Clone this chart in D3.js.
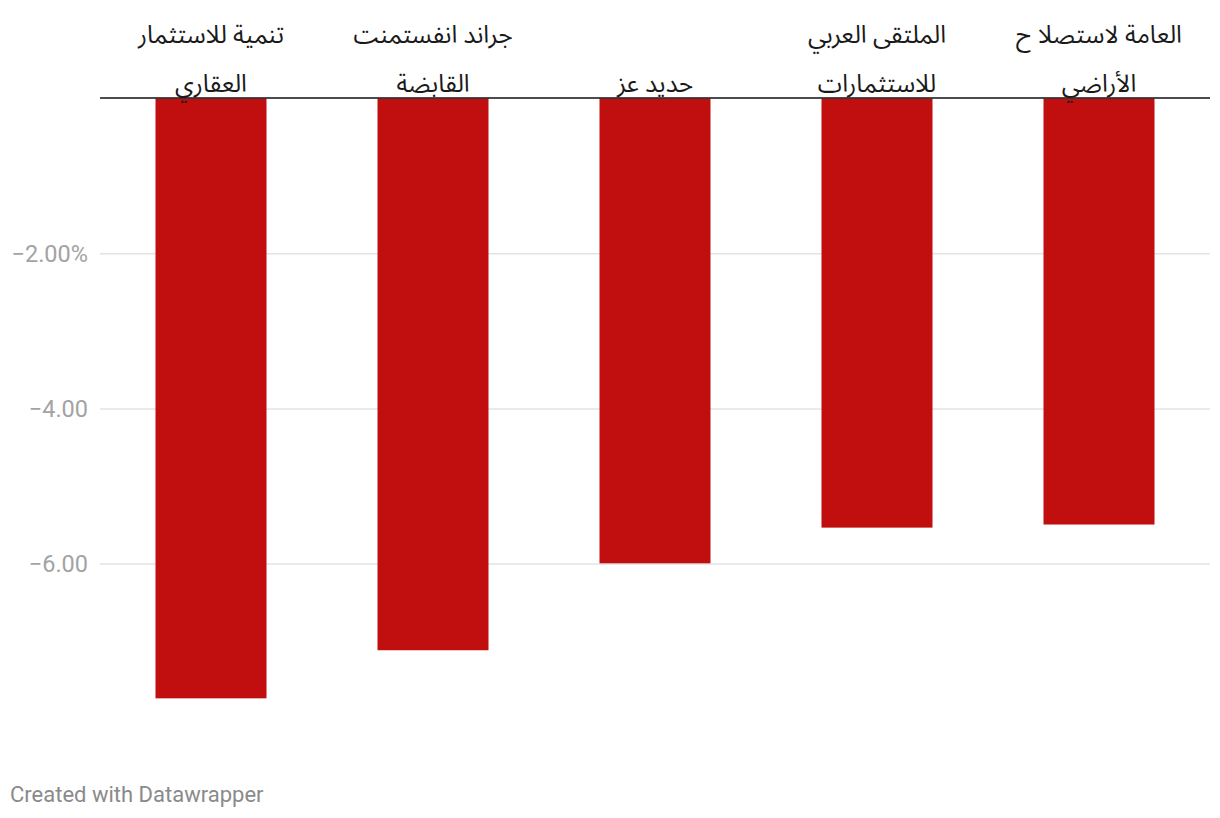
<!DOCTYPE html>
<html><head><meta charset="utf-8">
<script src="https://cdn.jsdelivr.net/npm/d3@7"></script>
<style>
body{margin:0;background:#fff;}
svg{display:block;}
</style></head>
<body>
<svg id="c" width="1220" height="818"></svg>
<script>
const categories = ["تنمية للاستثمار العقاري","جراند انفستمنت القابضة","حديد عز","الملتقى العربي للاستثمارات","العامة لاستصلاح الأراضي"];
const labelLines = [["تنمية للاستثمار","العقاري"],["جراند انفستمنت","القابضة"],["","حديد عز"],["الملتقى العربي","للاستثمارات"],["العامة لاستصلا ح","الأراضي"]];
const values = [-7.73, -7.11, -5.99, -5.53, -5.49];
const tickValues = [-2, -4, -6];
const tickLabels = ["−2.00%", "−4.00", "−6.00"];

const svg = d3.select("#c");
const x = d3.scaleBand().domain(categories).range([100,1210]).paddingInner(0.5).paddingOuter(0.25);
const y = d3.scaleLinear().domain([0,-8]).range([98.5, 98.5+8*77.6]);

// gridlines
svg.append("g").selectAll("line").data(tickValues).join("line")
  .attr("x1",100).attr("x2",1210)
  .attr("y1",d=>y(d)).attr("y2",d=>y(d))
  .attr("stroke","#e3e3e3").attr("stroke-width",1.5);
svg.append("g").selectAll("text").data(tickValues).join("text")
  .attr("x",88).attr("y",d=>y(d)).attr("dy","0.35em")
  .attr("text-anchor","end")
  .attr("font-family","Roboto, sans-serif").attr("font-size",23.5)
  .attr("fill","#a3a3a3")
  .text((d,i)=>tickLabels[i]);

// bars
svg.append("g").selectAll("rect").data(values).join("rect")
  .attr("x",(d,i)=>x(categories[i]))
  .attr("width",x.bandwidth())
  .attr("y",d=>y(0))
  .attr("height",d=>y(d)-y(0))
  .attr("fill","#c10f0f");

// baseline
svg.append("line").attr("x1",100).attr("x2",1210).attr("y1",y(0)-0.5).attr("y2",y(0)-0.5)
  .attr("stroke","#111").attr("stroke-width",1.5);

// category labels
const lg = svg.append("g");
categories.forEach((c,i)=>{
  const cx = x(c)+x.bandwidth()/2;
  labelLines[i].forEach((t,j)=>{
    if(!t) return;
    lg.append("text").attr("x",cx).attr("y",43+j*49)
      .attr("text-anchor","middle").attr("direction","rtl")
      .attr("font-family","'Noto Sans Arabic','Noto Sans','DejaVu Sans',sans-serif")
      .attr("font-size",24.5).attr("fill","#1a1a1a")
      .text(t);
  });
});

svg.append("text").attr("x",10).attr("y",802)
  .attr("font-family","Roboto, sans-serif").attr("font-size",22)
  .attr("fill","#8a8a8a").text("Created with Datawrapper");
</script>
</body></html>
